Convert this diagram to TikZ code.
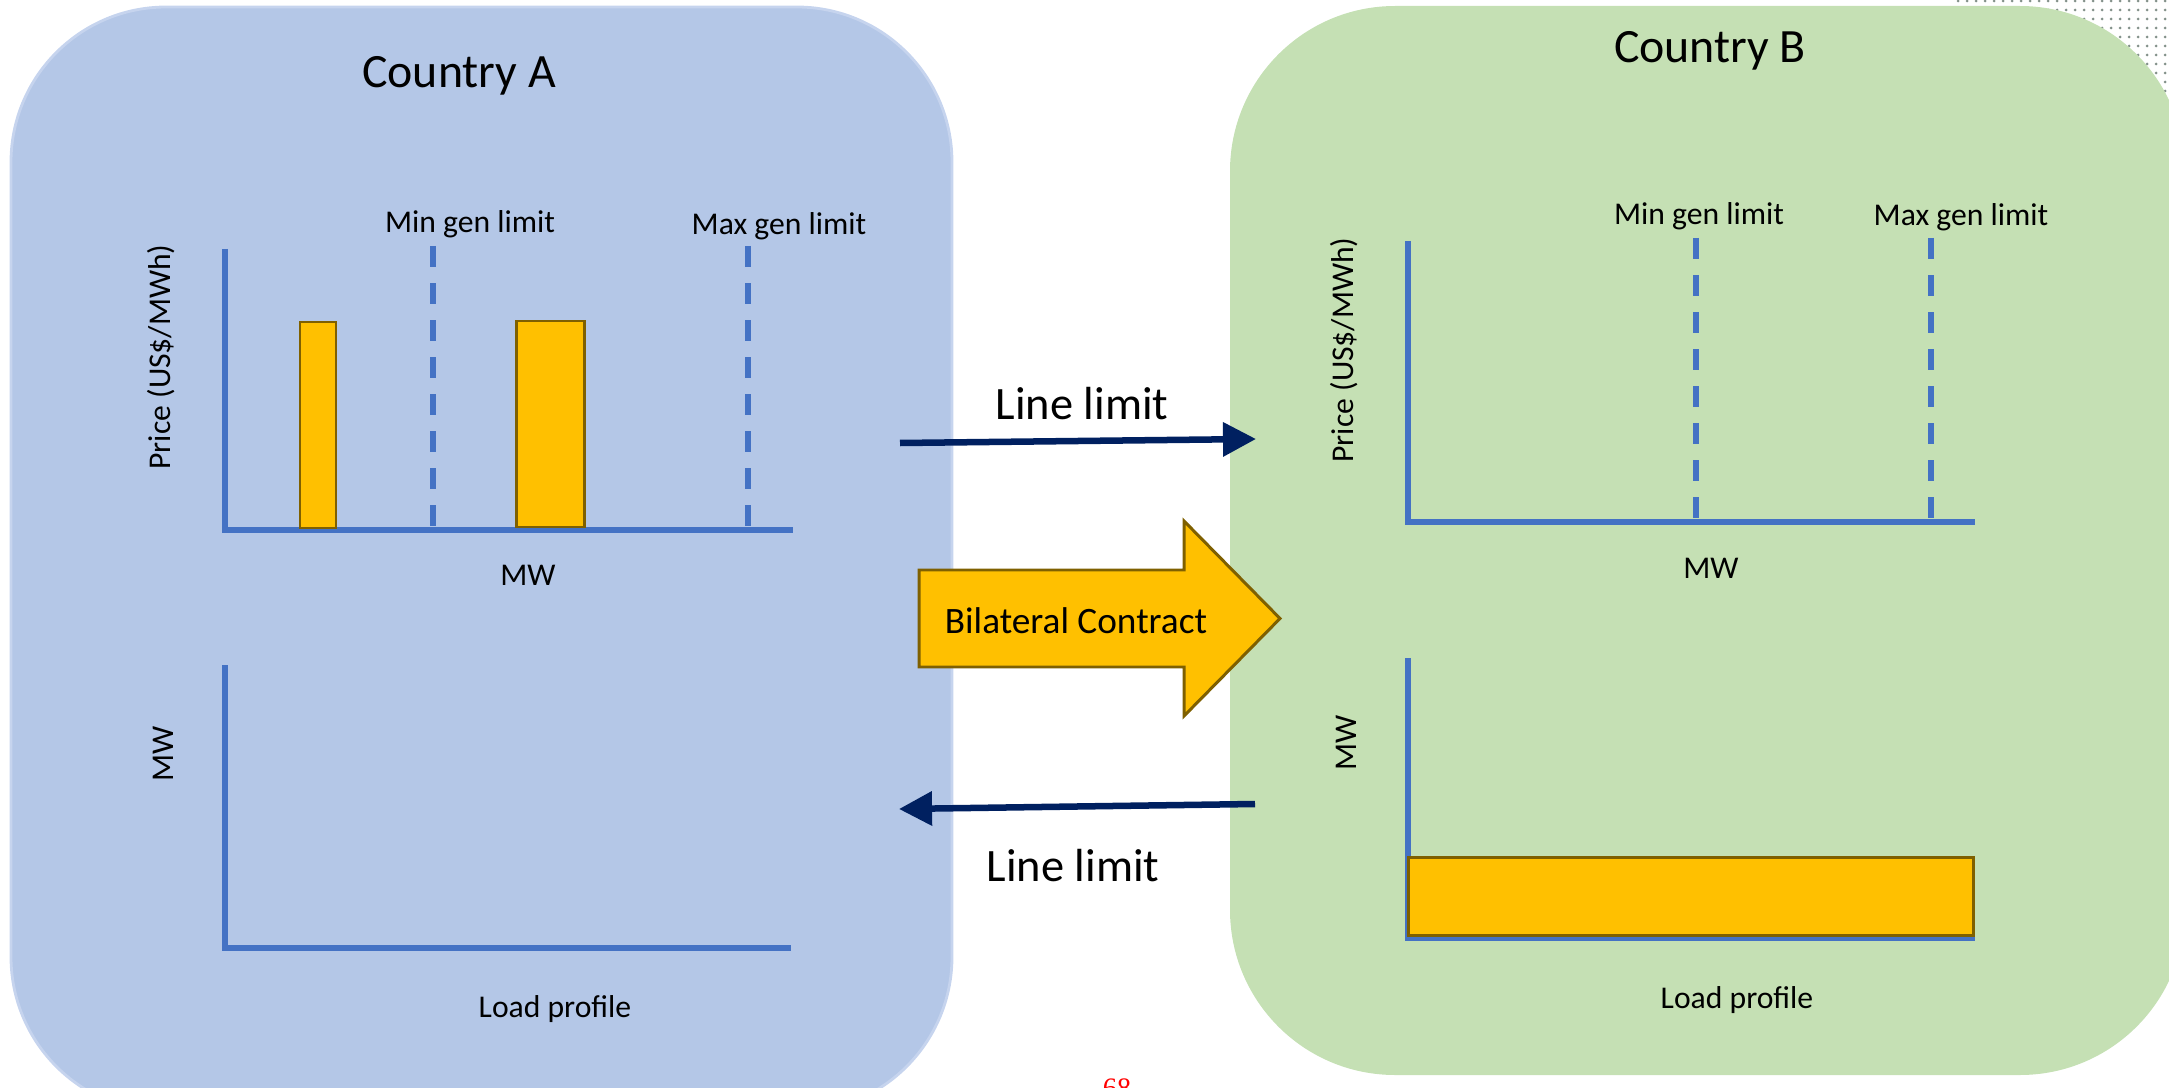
\documentclass[tikz,border=0pt]{standalone}
\usepackage{fontspec}
\setmainfont{Carlito}
\newfontfamily\pagenumfont{Liberation Serif}
\usetikzlibrary{arrows.meta}
\definecolor{boxA}{HTML}{B4C7E7}
\definecolor{boxAedge}{HTML}{C6D4EE}
\definecolor{boxB}{HTML}{C5E0B4}
\definecolor{axisblue}{HTML}{4472C4}
\definecolor{gold}{HTML}{FFC000}
\definecolor{goldedge}{HTML}{7F6000}
\definecolor{navy}{HTML}{002060}
\definecolor{dotgray}{HTML}{83918A}
\begin{document}
\begin{tikzpicture}[x=0.01cm,y=-0.01cm,
  axis/.style={draw=axisblue,line width=1.45pt,line join=miter},
  limitline/.style={draw=axisblue,line width=1.45pt,dash pattern=on 0.21cm off 0.16cm},
  barbox/.style={fill=gold,draw=goldedge,line width=0.85pt},
  lbl/.style={font=\fontsize{9}{10}\selectfont,inner sep=0pt},
  title/.style={font=\fontsize{13.6}{15}\selectfont,inner sep=0pt},
  linelbl/.style={font=\fontsize{13.2}{15}\selectfont,inner sep=0pt},
  flow/.style={draw=navy,line width=1.85pt,-{Triangle[length=0.33cm,width=0.33cm]}},
  ]
\useasboundingbox (0,0) rectangle (2169,1088);
\clip (0,0) rectangle (2169,1088);
% background dot pattern (top right)
\foreach \i in {0,...,24}{
  \foreach \j in {0,...,17}{
    \fill[dotgray] (1958+9*\i,1+9*\j) circle[radius=1.5];
  }
}
% country boxes
\draw[fill=boxA,draw=boxAedge,line width=0.8pt,rounded corners=1.55cm] (11,7) rectangle (952,1112);
\fill[boxB,rounded corners=1.65cm] (1230,6) rectangle (2185,1075);

% titles
\node[title] (titleA) at (459,76) {Country A};
\node[title] (titleB) at (1710,51) {Country B};

% ---- Country A, price chart
\draw[axis] (225,249) -- (225,530) -- (793,530);
\draw[limitline] (433,246) -- (433,530);
\draw[limitline] (748,246) -- (748,530);
\draw[barbox] (300,322) rectangle (336,528);
\draw[barbox] (516,321) rectangle (584,527);
\node[lbl] (minA) at (470,224) {Min gen limit};
\node[lbl] (maxA) at (779,226) {Max gen limit};
\node[lbl,rotate=90] (priceA) at (161,357) {Price (US\$/MWh)};
\node[lbl] (mwA) at (528,575) {MW};

% ---- Country A, load chart
\draw[axis] (225,665) -- (225,948) -- (791,948);
\node[lbl,rotate=90] (mwA2) at (163,754) {MW};
\node[lbl] (loadA) at (555,1009) {Load profile};

% ---- Country B, price chart
\draw[axis] (1408,241) -- (1408,522) -- (1975,522);
\draw[limitline] (1696,238) -- (1696,522);
\draw[limitline] (1931,238) -- (1931,522);
\node[lbl] (minB) at (1699,216) {Min gen limit};
\node[lbl] (maxB) at (1961,217) {Max gen limit};
\node[lbl,rotate=90] (priceB) at (1344,350) {Price (US\$/MWh)};
\node[lbl] (mwB) at (1711,568) {MW};

% ---- Country B, load chart
\draw[axis] (1408,658) -- (1408,938) -- (1975,938);
\draw[barbox] (1408,857) rectangle (1973,935);
\node[lbl,rotate=90] (mwB2) at (1346,743) {MW};
\node[lbl] (loadB) at (1737,1000) {Load profile};

% ---- line limit arrows
\coordinate (topS) at (900,443);
\coordinate (topE) at (1256,439);
\coordinate (botS) at (1255,804);
\coordinate (botE) at (899,809);
\draw[flow] (topS) -- (topE);
\draw[flow] (botS) -- (botE);
\node[linelbl] (llTop) at (1082,404) {Line limit};
\node[linelbl] (llBot) at (1073,866) {Line limit};

% ---- bilateral contract block arrow
\draw[fill=gold,draw=goldedge,line width=0.85pt,line join=miter]
  (919,570) -- (1184,570) -- (1184,521) -- (1280,618.5) -- (1184,716) -- (1184,667) -- (919,667) -- cycle;
\node[inner sep=0pt,font=\fontsize{10.6}{12}\selectfont] (bilat) at (1076,621) {Bilateral Contract};

% page number (cut off at the lower edge, as in the slide)
\node[anchor=north,inner sep=0pt,text=red,font=\pagenumfont\fontsize{8}{9}\selectfont] (pnum) at (1117,1078) {68};
\end{tikzpicture}
\end{document}
